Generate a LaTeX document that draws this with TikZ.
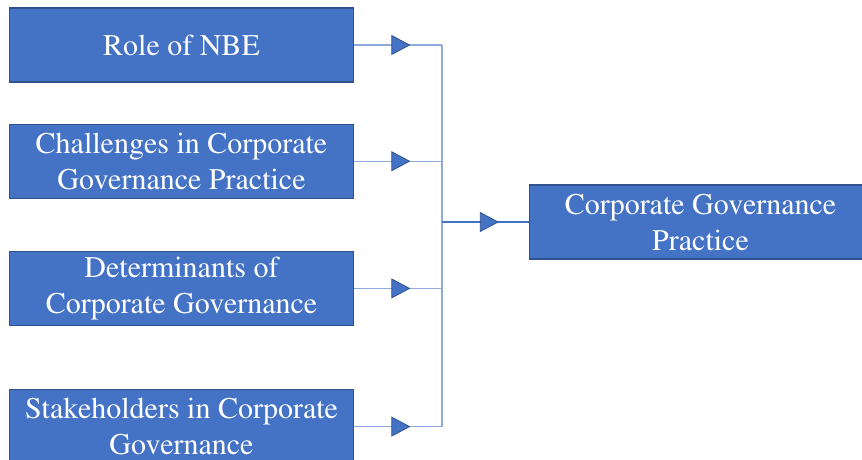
\documentclass[tikz,border=0pt]{standalone}
\usepackage[T1]{fontenc}
\usepackage{times}
\usetikzlibrary{arrows.meta,positioning,decorations.markings}
\definecolor{govBlue}{HTML}{4472C4}
\definecolor{govEdge}{HTML}{2F528F}
\definecolor{govLine}{HTML}{8FAADC}

\begin{document}
\begin{tikzpicture}[
  x=1pt, y=-1pt,
  font=\fontsize{30}{36}\selectfont,
  factor/.style={draw=govEdge, line width=1.2pt, fill=govBlue, text=white, align=center, minimum width=344pt, minimum height=74pt, inner sep=0pt},
  outcome/.style={factor, minimum width=342pt},
  feed/.style={line width=1.3pt, postaction={decorate}, decoration={markings, mark=at position #1 with {\arrow{Triangle[length=19pt, width=20pt, color=govEdge, fill=govBlue, line width=0.8pt]}}}},
  feed/.default=0.64,
  bus/.style={govLine, line width=1.3pt}
]
\clip (0,0) rectangle (862,459);

\node[factor] (role) at (181.5,45) {Role of NBE};
\node[factor, below=41pt of role] (challenges) {Challenges in Corporate\\Governance Practice};
\node[factor, below=52pt of challenges] (determinants) {Determinants of\\Corporate Governance};
\node[factor, below=63pt of determinants] (stakeholders) {Stakeholders in Corporate\\Governance};
\node[outcome] (practice) at (700.5,222) {Corporate Governance\\Practice};

% junctions on the collecting line
\coordinate (busx) at (442,0);
\coordinate (j1) at (role.east -| busx);
\coordinate (j2) at (challenges.east -| busx);
\coordinate (j3) at (determinants.east -| busx);
\coordinate (j4) at (stakeholders.east -| busx);
\coordinate (jout) at (practice.west -| busx);

% feeding lines, each with a triangle part way along
\draw[feed, govLine] (role.east) -- (j1);
\draw[feed, govLine] (challenges.east) -- (j2);
\draw[feed, govLine] (determinants.east) -- (j3);
\draw[feed, govLine] (stakeholders.east) -- (j4);
\draw[bus] (j1) -- (j4);
\draw[feed=0.655, govBlue] (jout) -- (practice.west);
\end{tikzpicture}
\end{document}
